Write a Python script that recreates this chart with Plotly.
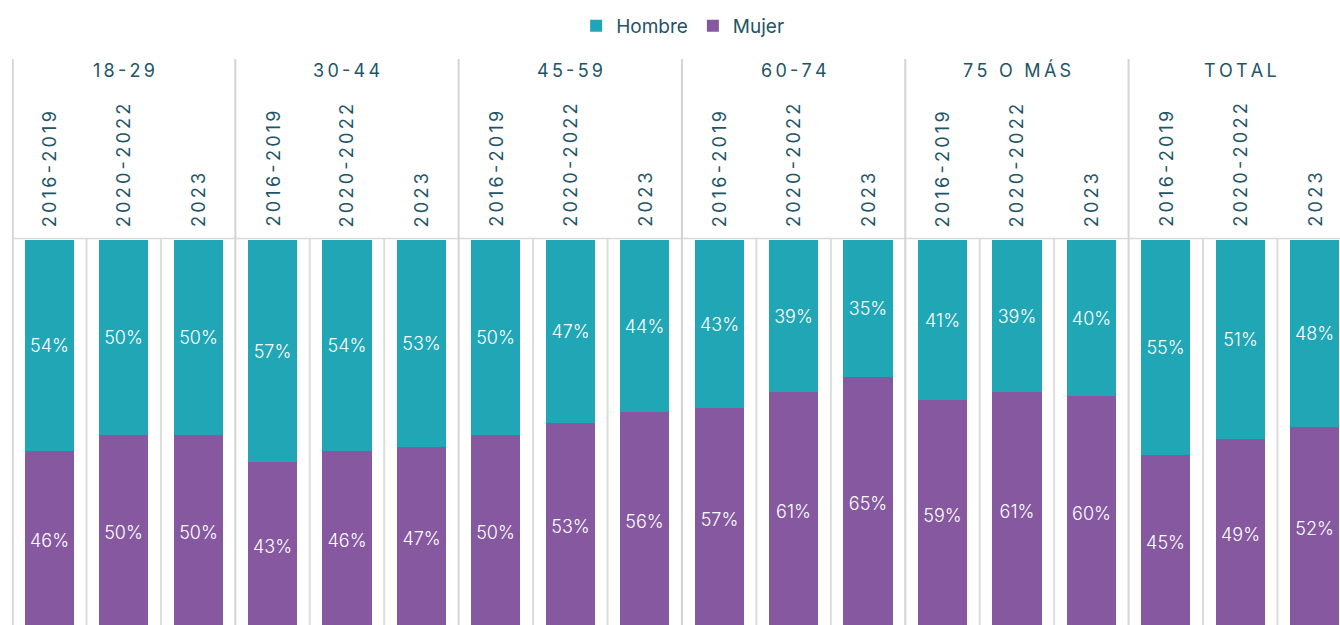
import plotly.graph_objects as go

groups = ["18-29", "30-44", "45-59", "60-74", "75 O MÁS", "TOTAL"]
periods = ["2016-2019", "2020-2022", "2023"]
hombre = [54, 50, 50, 57, 54, 53, 50, 47, 44, 43, 39, 35, 41, 39, 40, 55, 51, 48]
mujer = [46, 50, 50, 43, 46, 47, 50, 53, 56, 57, 61, 65, 59, 61, 60, 45, 49, 52]

TEAL = "#21A6B6"
PURPLE = "#8558A0"
DARK = "#1E5467"
FONT = "Inter"
SP = "\u2009"

def spaced(s):
    return SP.join(list(s))

n = len(hombre)
xs = list(range(n))

lab_font = dict(color="white", size=18, family=FONT, weight=300)

fig = go.Figure()
fig.add_trace(go.Bar(
    x=xs, y=mujer, name="Mujer", marker=dict(color=PURPLE, line=dict(width=0)),
    text=[f"{v}%" for v in mujer], textposition="inside", insidetextanchor="middle",
    textangle=0, textfont=lab_font, width=0.66, legendrank=2, hoverinfo="skip",
))
fig.add_trace(go.Bar(
    x=xs, y=hombre, name="Hombre", marker=dict(color=TEAL, line=dict(width=0)),
    text=[f"{v}%" for v in hombre], textposition="inside", insidetextanchor="middle",
    textangle=0, textfont=lab_font, width=0.66, legendrank=1, hoverinfo="skip",
))

W, H = 1340, 625
ML, MT = 12, 240
plot_h = H - MT

def py(pix):
    # pixel y -> paper y
    return 1 + (MT - pix) / plot_h

shapes = []
shapes.append(dict(type="line", xref="paper", yref="paper", x0=0, x1=1,
                   y0=py(238.5), y1=py(238.5), line=dict(color="#D9D9D9", width=1.5), layer="below"))
ng = len(groups)
npd = len(periods)
for g in range(ng):
    xsep = g * npd - 0.5 + (0.01 if g == 0 else 0)
    shapes.append(dict(type="line", xref="x", yref="paper", x0=xsep, x1=xsep,
                       y0=0, y1=py(59), line=dict(color="#D4D4D4", width=2), layer="below"))
    for k in range(1, npd):
        xs2 = g * npd + k - 0.5
        shapes.append(dict(type="line", xref="x", yref="paper", x0=xs2, x1=xs2,
                           y0=0, y1=py(238.5), line=dict(color="#DCDCDC", width=2), layer="below"))

hdr_font = dict(color=DARK, size=18, family=FONT, weight=400)
annotations = []
for g, name in enumerate(groups):
    annotations.append(dict(x=g * npd + 1, y=py(70), xref="x", yref="paper",
                            text=spaced(name), showarrow=False, xanchor="center", yanchor="middle",
                            font=hdr_font))
    for k, p in enumerate(periods):
        annotations.append(dict(x=g * npd + k, y=py(229), xref="x", yref="paper",
                                text=spaced(p), showarrow=False, textangle=-90,
                                xanchor="center", yanchor="bottom",
                                font=hdr_font))

fig.update_layout(
    width=W, height=H, barmode="stack",
    margin=dict(l=ML, r=0, t=MT, b=0, pad=0),
    plot_bgcolor="white", paper_bgcolor="white",
    bargap=0,
    xaxis=dict(range=[-0.5, 17.34], showticklabels=False, showgrid=False, zeroline=False, showline=False,
               fixedrange=True),
    yaxis=dict(range=[1.28, 100], showticklabels=False, showgrid=False, zeroline=False, showline=False,
               fixedrange=True),
    showlegend=True,
    legend=dict(orientation="h", x=0.505, xanchor="center", y=py(26), yanchor="middle",
                font=dict(color=DARK, size=19, family=FONT, weight=400), itemwidth=30, traceorder="normal"),
    shapes=shapes, annotations=annotations,
    uniformtext=dict(minsize=18, mode="show"),
    hovermode=False,
)

fig.write_html("out.html", config={"displayModeBar": False},
               post_script="document.body.style.margin='0px';document.body.style.overflow='hidden';")
